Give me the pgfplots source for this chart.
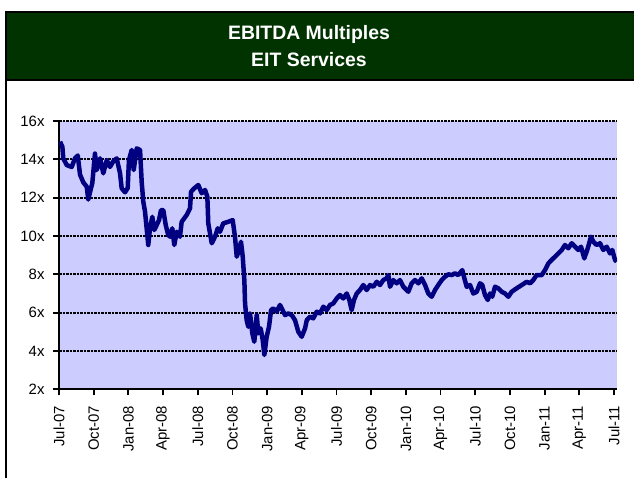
\documentclass[border=0pt]{standalone}
\usepackage{pgfplots}
\pgfplotsset{compat=1.18}
\usepackage{fontspec}
\setmainfont{Liberation Sans}
\definecolor{titlegreen}{RGB}{0,51,0}
\definecolor{plotbg}{RGB}{204,204,255}
\definecolor{navyline}{RGB}{0,0,128}
\begin{document}
\begin{tikzpicture}[x=1bp,y=1bp]
\useasboundingbox (0,0) rectangle (634,478);
\fill[white] (0,0) rectangle (634,478);
\fill[titlegreen] (6,466) rectangle (634,398);
\draw[black,line width=2bp] (6,0) -- (6,466) -- (634,466);
\draw[black,line width=2bp] (6,398) -- (634,398);
\node[text=white,font=\bfseries\fontsize{19.5}{27}\selectfont,align=center] at (309,432) {EBITDA Multiples\\EIT Services};
\begin{axis}[
  at={(59bp,88.7bp)}, anchor=south west,
  scale only axis, width=558bp, height=268.3bp,
  xmin=0, xmax=48.26, ymin=2, ymax=16,
  axis background/.style={fill=plotbg},
  axis x line*=bottom, axis y line*=left,
  axis line style={line width=2.2bp},
  tick align=outside, major tick length=6bp,
  tick style={black,line width=1.8bp},
  xtick={0,3,...,48},
  xticklabels={Jul-07,Oct-07,Jan-08,Apr-08,Jul-08,Oct-08,Jan-09,Apr-09,Jul-09,Oct-09,Jan-10,Apr-10,Jul-10,Oct-10,Jan-11,Apr-11,Jul-11},
  xticklabel style={rotate=90,anchor=east,font=\fontsize{15}{17}\selectfont},
  xticklabel shift=7bp,
  ytick={2,4,...,16},
  yticklabel={\pgfmathprintnumber{\tick}x},
  yticklabel style={font=\fontsize{15}{17}\selectfont},
  yticklabel shift=5bp,
  /pgf/number format/assume math mode=true,
  ymajorgrids,
  major grid style={black,line width=2bp,dash pattern=on 2.5bp off 1bp},
]
\addplot[navyline, line width=4.5bp, line join=round] coordinates {
(0.09,14.92)(0.29,14.66)(0.37,14.05)(0.67,13.70)(1.10,13.60)(1.38,14.05)(1.62,14.20)
(1.82,13.20)(2.10,12.80)(2.40,12.57)(2.53,11.90)(2.77,12.50)(2.88,12.75)(3.11,14.30)
(3.26,13.44)(3.55,14.05)(3.83,13.27)(4.13,13.96)(4.41,13.60)(4.70,13.90)(4.99,14.05)
(5.28,13.27)(5.42,12.49)(5.71,12.28)(5.94,12.49)(6.05,13.96)(6.29,14.49)(6.46,13.44)
(6.72,14.57)(7.01,14.49)(7.15,12.83)(7.29,11.79)(7.44,11.27)(7.58,10.40)(7.72,9.53)
(7.87,10.40)(8.07,11.00)(8.24,10.31)(8.45,10.57)(8.65,10.83)(8.82,11.35)(9.02,11.35)
(9.23,10.57)(9.45,10.05)(9.60,9.96)(9.80,10.40)(9.97,9.53)(10.18,10.22)(10.46,9.96)
(10.61,10.74)(11.04,11.09)(11.33,11.44)(11.42,12.31)(11.70,12.49)(12.05,12.66)
(12.34,12.23)(12.63,12.40)(12.83,12.05)(12.91,10.66)(13.21,9.62)(13.49,9.96)
(13.73,10.40)(13.92,10.22)(14.21,10.66)(14.64,10.74)(15.02,10.83)(15.22,9.96)
(15.37,8.92)(15.57,9.27)(15.74,9.70)(15.89,8.92)(16.03,7.70)(16.09,6.49)(16.23,5.61)
(16.37,5.26)(16.52,5.96)(16.72,4.92)(16.89,4.48)(17.10,5.87)(17.24,4.92)(17.44,5.18)
(17.62,4.57)(17.76,3.79)(17.96,4.74)(18.16,5.26)(18.34,6.13)(18.53,6.22)(18.83,6.05)
(19.11,6.40)(19.37,6.10)(19.55,5.87)(19.83,5.96)(20.13,5.87)(20.41,5.61)(20.70,5.00)
(20.99,4.74)(21.28,5.18)(21.43,5.61)(21.71,5.79)(21.99,5.70)(22.29,6.05)(22.57,5.96)
(22.86,6.31)(23.15,6.13)(23.44,6.40)(23.72,6.48)(24.02,6.74)(24.30,6.92)(24.59,6.74)
(24.88,7.00)(25.11,6.66)(25.31,6.13)(25.51,6.66)(25.75,7.00)(26.03,7.18)(26.32,7.44)
(26.61,7.18)(26.90,7.44)(27.18,7.35)(27.48,7.61)(27.76,7.44)(28.05,7.70)(28.34,7.79)
(28.48,7.96)(28.63,7.35)(28.91,7.70)(29.21,7.53)(29.49,7.70)(29.78,7.35)(30.21,7.09)
(30.50,7.53)(30.79,7.70)(31.08,7.53)(31.37,7.79)(31.66,7.44)(31.94,7.00)(32.23,6.83)
(32.52,7.18)(32.80,7.44)(33.10,7.70)(33.38,7.87)(33.67,8.00)(33.96,7.96)(34.25,8.05)
(34.53,7.96)(34.88,8.22)(35.06,7.79)(35.26,7.35)(35.55,7.44)(35.83,7.00)(36.13,7.09)
(36.41,7.53)(36.61,7.44)(36.84,6.92)(37.08,6.66)(37.28,7.00)(37.47,6.83)(37.71,7.35)
(37.99,7.27)(38.29,7.09)(38.57,7.00)(38.86,6.83)(39.15,7.09)(39.58,7.27)(40.02,7.44)
(40.45,7.61)(40.74,7.53)(41.02,7.70)(41.31,7.96)(41.75,7.96)(42.03,8.22)(42.32,8.57)
(42.61,8.75)(42.90,8.92)(43.18,9.09)(43.48,9.27)(43.76,9.53)(44.05,9.36)(44.34,9.62)
(44.63,9.44)(44.91,9.27)(45.15,9.44)(45.43,8.83)(45.73,9.36)(46.01,9.96)(46.21,9.70)
(46.50,9.53)(46.79,9.62)(47.07,9.27)(47.37,9.44)(47.65,9.09)(47.85,9.27)(48.09,8.75)
(48.23,8.66)
};
\end{axis}
\end{tikzpicture}
\end{document}
